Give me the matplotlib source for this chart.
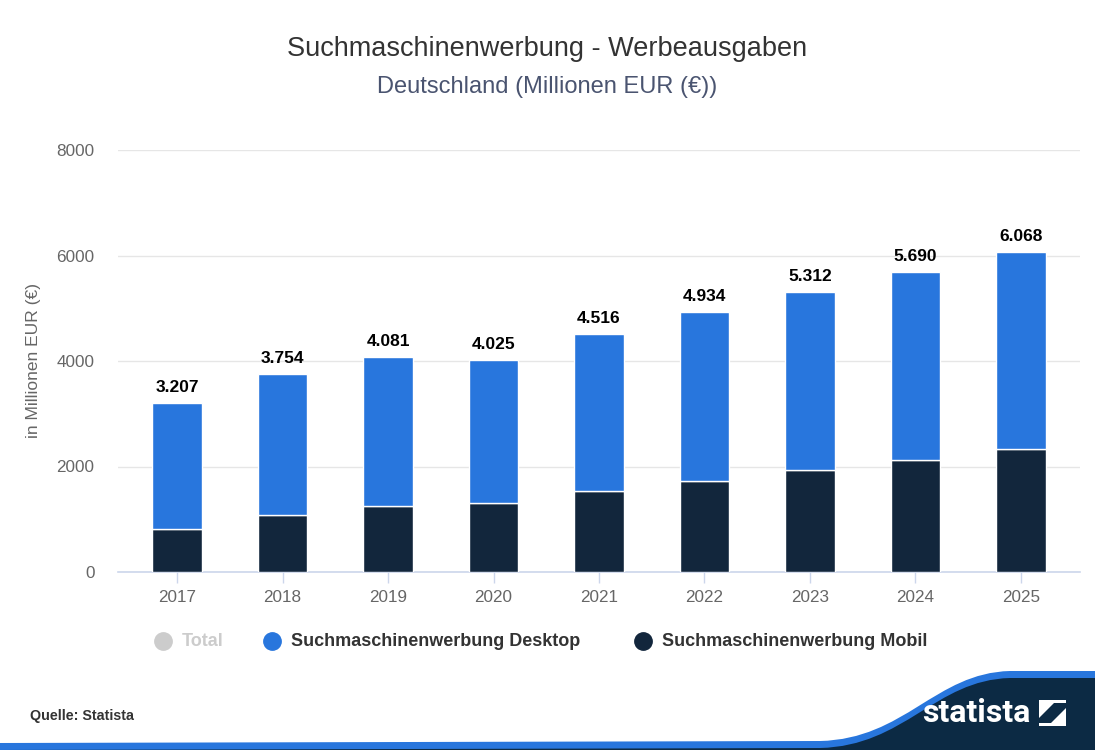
import matplotlib
matplotlib.use("Agg")
import matplotlib.pyplot as plt
from matplotlib.path import Path
from matplotlib.patches import PathPatch, Polygon
import numpy as np

plt.rcParams['font.family'] = ['Liberation Sans', 'DejaVu Sans']

years = ['2017', '2018', '2019', '2020', '2021', '2022', '2023', '2024', '2025']
total = [3207, 3754, 4081, 4025, 4516, 4934, 5312, 5690, 6068]
mobil = [819, 1078, 1248, 1305, 1538, 1734, 1935, 2124, 2332]
desktop = [t - m for t, m in zip(total, mobil)]
yticks = [0, 2000, 4000, 6000, 8000]

c_desk = '#2876dd'
c_mob = '#12263c'

W, H = 1095, 750
fig = plt.figure(figsize=(W / 100, H / 100), dpi=100)

# background layer for footer graphics, pixel coordinates
bg = fig.add_axes([0, 0, 1, 1], zorder=0)
bg.set_xlim(0, W)
bg.set_ylim(H, 0)
bg.axis('off')

def wave(dy):
    verts = [(0, 748 + dy), (820, 746 + dy), (905, 744 + dy), (935, 678 + dy),
             (1010, 676 + dy), (W, 676 + dy), (W, H), (0, H), (0, 748 + dy)]
    codes = [Path.MOVETO, Path.LINETO, Path.CURVE4, Path.CURVE4, Path.CURVE4,
             Path.LINETO, Path.LINETO, Path.LINETO, Path.CLOSEPOLY]
    return Path(verts, codes)

bg.add_patch(PathPatch(wave(-5), facecolor=c_desk, edgecolor='none'))
bg.add_patch(PathPatch(wave(2), facecolor='#0c2a44', edgecolor='none'))
bg.text(976, 713, 'statista', color='white', fontsize=23, fontweight='bold',
        ha='center', va='center', family=['Roboto', 'DejaVu Sans'], stretch='condensed')
bg.add_patch(Polygon([(1039, 700), (1066, 700), (1066, 726), (1039, 726)],
                     closed=True, facecolor='white', edgecolor='none'))
bg.add_patch(Polygon([(1039, 718), (1054, 703), (1066, 703), (1066, 708), (1051, 723), (1039, 723)],
                     closed=True, facecolor='#0c2a44', edgecolor='none'))
bg.text(30, 716, 'Quelle: Statista', fontsize=10.3, fontweight='bold', color='#333333',
        ha='left', va='center')

ax = fig.add_axes([118 / W, 1 - 572 / H, (1080 - 118) / W, (572 - 150) / H], zorder=1)
x = np.arange(len(years))
bw = 0.47
ax.bar(x, mobil, width=bw, color=c_mob, edgecolor='white', linewidth=1, zorder=3)
ax.bar(x, desktop, bottom=mobil, width=bw, color=c_desk, edgecolor='white', linewidth=1, zorder=3)

for xi, t in zip(x, total):
    lab = f'{t / 1000:.3f}'
    ax.text(xi, t + 150, lab, ha='center', va='bottom', fontsize=12.5,
            fontweight='bold', color='black', zorder=4)

ax.set_xlim(-0.56, len(years) - 0.44)
ax.set_ylim(0, 8000)
ax.set_yticks(yticks)
ax.set_yticklabels([str(v) for v in yticks])
ax.set_xticks(x)
ax.set_xticklabels(years)
ax.grid(axis='y', color='#e6e6e6', linewidth=1, zorder=0)
ax.set_axisbelow(True)
for s in ['top', 'right', 'left']:
    ax.spines[s].set_visible(False)
ax.spines['bottom'].set_color('#ccd6eb')
ax.spines['bottom'].set_linewidth(1.2)
ax.tick_params(axis='y', length=0, pad=17, labelsize=12.3, labelcolor='#666666')
ax.tick_params(axis='x', length=8, color='#ccd6eb', width=1, pad=5,
               labelsize=12.3, labelcolor='#666666')
ax.set_ylabel('in Millionen EUR (€)', fontsize=12.5, color='#666666', labelpad=11)

fig.text(0.5, 1 - 49 / H, 'Suchmaschinenwerbung - Werbeausgaben', ha='center', va='center',
         fontsize=19.5, color='#333333')
fig.text(0.5, 1 - 87 / H, 'Deutschland (Millionen EUR (€))', ha='center', va='center',
         fontsize=17, color='#4a5470')

# legend
ly = 1 - 641 / H
items = [(163, '#cccccc', 'Total', '#cccccc'),
         (272, c_desk, 'Suchmaschinenwerbung Desktop', '#333333'),
         (643, c_mob, 'Suchmaschinenwerbung Mobil', '#333333')]
for px, mc, lab, tc in items:
    fig.lines.append(plt.Line2D([px / W], [ly], marker='o', markersize=12.5, color=mc,
                                linestyle='none', transform=fig.transFigure))
    fig.text((px + 19) / W, ly, lab, ha='left', va='center', fontsize=13,
             fontweight='bold', color=tc)

fig.savefig('out.png', dpi=100)
